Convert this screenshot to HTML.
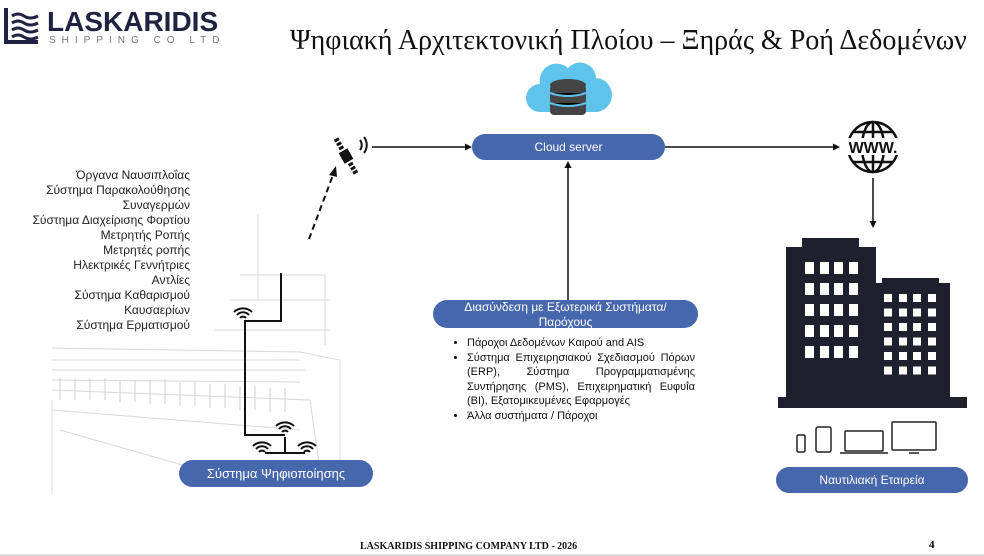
<!DOCTYPE html>
<html><head><meta charset="utf-8"><style>
body{margin:0;width:984px;height:556px;background:#fff;position:relative;overflow:hidden;font-family:"Liberation Sans",sans-serif}
.a{position:absolute}
.pill{position:absolute;background:#4767ad;color:#fff;border-radius:14px;text-align:center;font-size:12px;display:flex;align-items:center;justify-content:center;line-height:15px}
.list{text-align:right;font-size:12px;line-height:15px;color:#222}
ul{margin:0;padding-left:16px;font-size:11px;line-height:14.5px;color:#111}
</style></head><body>
<svg class="a" style="left:0;top:0" width="984" height="556">
 <path d="M6 8 V42 H38" fill="none" stroke="#1f2340" stroke-width="4"/>
 <g stroke="#1f2340" stroke-width="3" fill="none"><path d="M12 16 q6-4 12 0 t14 0"/><path d="M12 23 q6-4 12 0 t14 0"/><path d="M12 30 q6-4 12 0 t14 0"/><path d="M12 37 q6-4 12 0 t14 0"/></g>
 <g stroke="#d8d8d8" stroke-width="1" fill="none">
  <path d="M52 348 L300 352 L340 360 L340 470"/><path d="M52 380 L300 382"/><path d="M52 390 L310 400 L320 470"/>
  <path d="M52 410 L300 430"/><path d="M60 430 L200 470"/><path d="M52 400 L52 495"/>
  <path d="M258 215 V300"/><path d="M240 275 H325 V345"/><path d="M230 300 H330"/><path d="M215 330 H330"/>
  <path d="M52 360 H300 M52 370 H305"/>
 </g>
 <g stroke="#cfcfcf"><path d="M60 378 V400 M75 378 V400 M90 378 V400 M105 378 V400 M120 380 V402 M135 380 V402 M150 380 V404 M165 380 V404 M180 382 V406 M195 382 V406 M210 384 V408 M225 384 V408 M240 386 V410 M255 386 V410 M270 388 V412 M285 388 V412"/></g>
 <path d="M281 273 V321 H245 V435 H285" fill="none" stroke="#111" stroke-width="2"/>
 <path d="M285 437 V453 M265 453 H305" stroke="#111" stroke-width="2"/>
 <g fill="none" stroke="#111" stroke-width="2">
  <g transform="translate(243,318)"><path d="M-9-6a13 13 0 0 1 18 0M-6-3a8 8 0 0 1 12 0M-3 0a4 4 0 0 1 6 0"/></g>
  <g transform="translate(285,432)"><path d="M-9-6a13 13 0 0 1 18 0M-6-3a8 8 0 0 1 12 0M-3 0a4 4 0 0 1 6 0"/></g>
  <g transform="translate(262,452)"><path d="M-9-6a13 13 0 0 1 18 0M-6-3a8 8 0 0 1 12 0M-3 0a4 4 0 0 1 6 0"/></g>
  <g transform="translate(307,452)"><path d="M-9-6a13 13 0 0 1 18 0M-6-3a8 8 0 0 1 12 0M-3 0a4 4 0 0 1 6 0"/></g>
 </g>
 <g transform="translate(346,156) rotate(-30)"><rect x="-5" y="-6" width="10" height="12" fill="#111"/><path d="M0-8V-21M0 8V21" stroke="#111" stroke-width="5" stroke-dasharray="3 1.5"/></g>
 <path d="M360 150a8 8 0 0 0 0-10M364 153a13 13 0 0 0 0-16" fill="none" stroke="#111" stroke-width="2"/>
 <path d="M309 239 L333 175" stroke="#111" stroke-width="2" stroke-dasharray="6 4"/>
 <path d="M336 166 L329 175 L337 177Z" fill="#111"/>
 <path d="M372 147 H466" stroke="#111" stroke-width="1.5"/><path d="M472 147 l-7-3.5v7z" fill="#111"/>
 <path d="M568 300 V168" stroke="#111" stroke-width="1.5"/><path d="M568 161 l-3.5 7h7z" fill="#111"/>
 <path d="M665 147 H834" stroke="#111" stroke-width="1.5"/><path d="M840 147 l-7-3.5v7z" fill="#111"/>
 <path d="M873 178 V221" stroke="#111" stroke-width="1.5"/><path d="M873 228 l-3.5-7h7z" fill="#111"/>
 <path d="M540 112 a14 14 0 0 1 0-28 a17 17 0 0 1 28-16 a16 16 0 0 1 28 10 a12 12 0 0 1 -2 34z" fill="#5fc3ec"/>
 <g fill="#444"><ellipse cx="568" cy="85" rx="18" ry="6"/><rect x="550" y="85" width="36" height="30" rx="4"/></g>
 <g stroke="#5fc3ec" stroke-width="2"><path d="M550 93 q18 6 36 0M550 103 q18 6 36 0"/></g>
 <g fill="none" stroke="#111" stroke-width="2.5"><circle cx="873" cy="147" r="25"/><ellipse cx="873" cy="147" rx="11" ry="25"/><path d="M873 122V172M853 132H893M853 162H893"/></g>
 <rect x="844" y="138" width="58" height="17" fill="#fff"/>
 <text x="873" y="153" font-family="Liberation Sans" font-weight="bold" font-size="16" text-anchor="middle" fill="#111">WWW.</text>
 <g fill="#1e202d"><path d="M778 408 V397 H786 V247 H802 V238 H859 V247 H876 V283 H882 V278 H939 V283 H950 V397 H967 V408 Z"/></g>
 <g fill="#fff">
  <g id="r1"><rect x="805" y="262" width="9" height="12"/><rect x="820" y="262" width="9" height="12"/><rect x="834" y="262" width="9" height="12"/><rect x="849" y="262" width="9" height="12"/></g>
  <use href="#r1" y="21"/><use href="#r1" y="42"/><use href="#r1" y="63"/><use href="#r1" y="84"/>
  <g id="r2"><rect x="884" y="294" width="8" height="8"/><rect x="899" y="294" width="8" height="8"/><rect x="913" y="294" width="8" height="8"/><rect x="928" y="294" width="8" height="8"/></g>
  <use href="#r2" y="14.5"/><use href="#r2" y="29"/><use href="#r2" y="43.5"/><use href="#r2" y="58"/><use href="#r2" y="72.5"/>
 </g>
 <g fill="none" stroke="#222" stroke-width="1.5"><rect x="797" y="435" width="8" height="17" rx="1.5"/><rect x="816" y="427" width="15" height="25" rx="2"/><rect x="845" y="431" width="38" height="20" rx="1"/><path d="M840 453H888"/><rect x="892" y="422" width="44" height="28" rx="1"/><path d="M909 453h10"/></g>
 <path d="M0 555 H984" stroke="#bbb" stroke-width="1"/>
</svg>
<div class="a" style="left:47px;top:6px;font:900 28px 'Liberation Sans',sans-serif;color:#1f2340">LASKARIDIS</div>
<div class="a" style="left:49px;top:35px;font:10px 'Liberation Sans',sans-serif;color:#777;letter-spacing:6px">SHIPPING CO LTD</div>
<div class="a" style="left:290px;top:25px;font:28px 'Liberation Serif',serif;color:#111;white-space:nowrap">Ψηφιακή Αρχιτεκτονική Πλοίου – Ξηράς &amp; Ροή Δεδομένων</div>
<div class="a list" style="left:0;width:190px;top:168px">Όργανα Ναυσιπλοΐας<br>Σύστημα Παρακολούθησης<br>Συναγερμών<br>Σύστημα Διαχείρισης Φορτίου<br>Μετρητής Ροπής<br>Μετρητές ροπής<br>Ηλεκτρικές Γεννήτριες<br>Αντλίες<br>Σύστημα Καθαρισμού<br>Καυσαερίων<br>Σύστημα Ερματισμού</div>
<div class="pill" style="left:472px;top:134px;width:193px;height:26px">Cloud server</div>
<div class="pill" style="left:433px;top:300px;width:265px;height:28px;padding-top:2px;box-sizing:border-box">Διασύνδεση με Εξωτερικά Συστήματα/<br>Παρόχους</div>
<div class="pill" style="left:179px;top:460px;width:194px;height:27px;font-size:13px">Σύστημα Ψηφιοποίησης</div>
<div class="pill" style="left:776px;top:467px;width:192px;height:26px">Ναυτιλιακή Εταιρεία</div>
<div class="a" style="left:451px;top:336px;width:244px;text-align:justify"><ul>
<li>Πάροχοι Δεδομένων Καιρού and AIS</li>
<li>Σύστημα Επιχειρησιακού Σχεδιασμού Πόρων (ERP), Σύστημα Προγραμματισμένης Συντήρησης (PMS), Επιχειρηματική Ευφυΐα (BI), Εξατομικευμένες Εφαρμογές</li>
<li>Άλλα συστήματα / Πάροχοι</li></ul></div>
<div class="a" style="left:360px;top:541px;font:bold 10px 'Liberation Serif',serif;color:#111">LASKARIDIS SHIPPING COMPANY LTD - 2026</div>
<div class="a" style="left:929px;top:539px;font:bold 11px 'Liberation Serif',serif">4</div>
</body></html>
